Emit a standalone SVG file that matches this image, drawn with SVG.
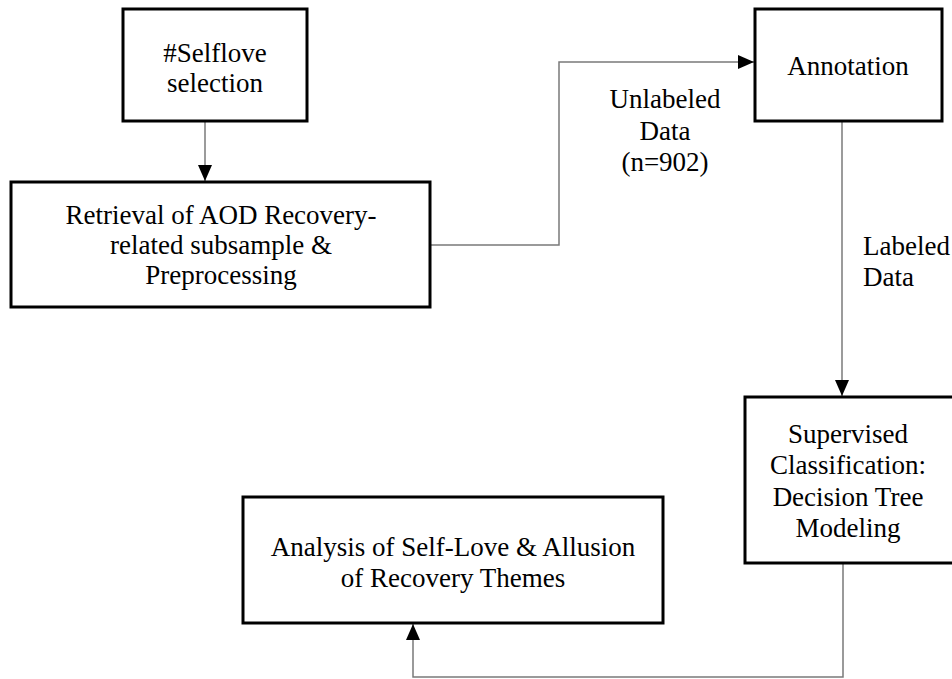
<svg xmlns="http://www.w3.org/2000/svg" width="952" height="679" viewBox="0 0 952 679">
<style>
.box{fill:#fff;stroke:#000;stroke-width:3}
.t{font-family:"Liberation Serif","Times New Roman",serif;font-size:27px;fill:#000;text-anchor:middle}
.l{font-family:"Liberation Serif","Times New Roman",serif;font-size:27px;fill:#000}
.c{fill:none;stroke:#7a7a7a;stroke-width:1.5}
</style>
<defs>
<marker id="ah" markerUnits="userSpaceOnUse" markerWidth="16" markerHeight="14" refX="16" refY="7" orient="auto">
<path d="M0,0 L16,7 L0,14 z" fill="#000"/>
</marker>
</defs>
<rect width="952" height="679" fill="#fff"/>
<g id="connectors">
<path class="c" d="M205,121 V181" marker-end="url(#ah)"/>
<path class="c" d="M430,245 H559 V62 H754" marker-end="url(#ah)"/>
<path class="c" d="M842,121 V396" marker-end="url(#ah)"/>
<path class="c" d="M843,563 V677 H413 V624" marker-end="url(#ah)"/>
<text class="t" x="665" y="108">Unlabeled</text>
<text class="t" x="665" y="140">Data</text>
<text class="t" x="665" y="171">(n=902)</text>
<text class="l" x="863" y="255">Labeled</text>
<text class="l" x="863" y="286">Data</text>
</g>
<g id="selflove">
<rect class="box" x="123" y="9" width="184" height="112"/>
<text class="t" x="215" y="62">#Selflove</text>
<text class="t" x="215" y="92">selection</text>
</g>
<g id="retrieval">
<rect class="box" x="11" y="182" width="419" height="125"/>
<text class="t" x="221" y="224">Retrieval of AOD Recovery-</text>
<text class="t" x="221" y="254">related subsample &amp;</text>
<text class="t" x="221" y="284">Preprocessing</text>
</g>
<g id="annotation">
<rect class="box" x="755" y="9" width="187" height="112"/>
<text class="t" x="848" y="75">Annotation</text>
</g>
<g id="supervised">
<rect class="box" x="745" y="397" width="215" height="166"/>
<text class="t" x="848" y="443">Supervised</text>
<text class="t" x="848" y="474">Classification:</text>
<text class="t" x="848" y="506">Decision Tree</text>
<text class="t" x="848" y="537">Modeling</text>
</g>
<g id="analysis">
<rect class="box" x="243" y="497" width="420" height="126"/>
<text class="t" x="453" y="556">Analysis of Self-Love &amp; Allusion</text>
<text class="t" x="453" y="587">of Recovery Themes</text>
</g>
</svg>
